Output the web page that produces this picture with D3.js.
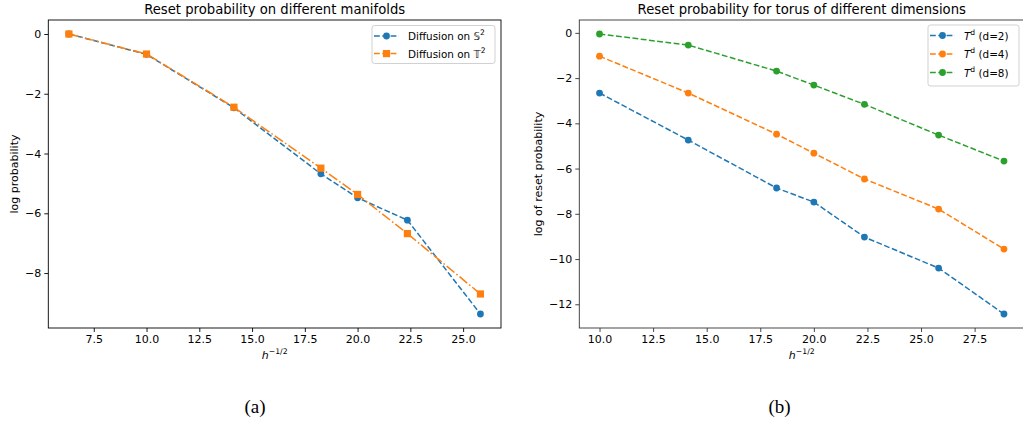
<!DOCTYPE html>
<html>
<head>
<meta charset="utf-8">
<script src="https://cdn.jsdelivr.net/npm/d3@7"></script>
<style>
  body { margin: 0; background: #fff; }
  text { font-family: "DejaVu Sans", sans-serif; fill: #000; }
</style>
</head>
<body>
<svg class="chart" width="1023" height="428"></svg>
<script>
// panel (a): sphere vs torus
var hInvA = [6.32, 10, 14.14, 18.26, 20, 22.36, 25.82];
var sphereLogP = [0, -0.68, -2.47, -4.68, -5.48, -6.23, -9.37];
var torus2LogP = [0, -0.67, -2.45, -4.49, -5.37, -6.68, -8.70];

// panel (b): torus in different dimensions
var hInvB = [10, 14.14, 18.26, 20, 22.36, 25.82, 28.87];
var torusD2 = [-2.66, -4.74, -6.86, -7.48, -9.03, -10.40, -12.43];
var torusD4 = [-1.03, -2.66, -4.48, -5.32, -6.46, -7.79, -9.56];
var torusD8 = [-0.05, -0.54, -1.69, -2.31, -3.16, -4.52, -5.67];

var xTicksA = [7.5, 10, 12.5, 15, 17.5, 20, 22.5, 25];
var yTicksA = [0, -2, -4, -6, -8];
var xTicksB = [10, 12.5, 15, 17.5, 20, 22.5, 25, 27.5];
var yTicksB = [0, -2, -4, -6, -8, -10, -12];

var blue = "#1f77b4", orange = "#ff7f0e", green = "#2ca02c";
var dashed = "5.8,2.5", dashdot = "10,2.5,1.6,2.5";

var svg = d3.select(".chart");
svg.append("rect").attr("width", 1023).attr("height", 428).attr("fill", "#fff");

// matplotlib-like 5% margins
function padded(values) {
    var ext = d3.extent(values), d = (ext[1] - ext[0]) * 0.05;
    return [ext[0] - d, ext[1] + d];
}

function drawPanel(o) {
    var x = d3.scaleLinear().domain(padded(o.xs)).range([o.left, o.right]);
    var allY = [].concat.apply([], o.series.map(function(s) { return s.values; }));
    var y = d3.scaleLinear().domain(padded(allY)).range([o.bottom, o.top]);
    var midX = (o.left + o.right) / 2;

    var g = svg.append("g");

    // x axis
    var xa = g.append("g")
        .attr("transform", "translate(0," + o.bottom + ")")
        .call(d3.axisBottom(x).tickValues(o.xTicks).tickFormat(d3.format(".1f"))
            .tickSize(4).tickSizeOuter(0).tickPadding(3));
    // y axis
    var ya = g.append("g")
        .attr("transform", "translate(" + o.left + ",0)")
        .call(d3.axisLeft(y).tickValues(o.yTicks).tickFormat(d3.format("d"))
            .tickSize(4).tickSizeOuter(0).tickPadding(3));
    [xa, ya].forEach(function(a) {
        a.select(".domain").remove();
        a.selectAll("line").attr("stroke", o.spine).attr("stroke-width", 0.9);
        a.selectAll("text").attr("font-size", "11px").attr("fill", "#000")
            .style("font-family", "'DejaVu Sans', sans-serif");
    });

    // series
    o.series.forEach(function(s) {
        var pts = o.xs.map(function(v, i) { return [x(v), y(s.values[i])]; });
        g.append("path")
            .attr("d", d3.line()(pts))
            .attr("fill", "none")
            .attr("stroke", s.color)
            .attr("stroke-width", 1.5)
            .attr("stroke-dasharray", s.dash);
        drawMarkers(g, pts, s);
    });

    // spines
    g.append("rect")
        .attr("x", o.left).attr("y", o.top)
        .attr("width", o.right - o.left).attr("height", o.bottom - o.top)
        .attr("fill", "none").attr("stroke", o.spine).attr("stroke-width", 0.9);

    // title
    g.append("text")
        .attr("x", midX).attr("y", 14)
        .attr("text-anchor", "middle").attr("font-size", "13.2px")
        .text(o.title);

    // x label  h^{-1/2}
    var xl = g.append("text")
        .attr("x", midX).attr("y", 359)
        .attr("text-anchor", "middle").attr("font-size", "11px");
    xl.append("tspan").attr("font-style", "italic").text("h");
    xl.append("tspan").attr("font-size", "7.7px").attr("dy", -5).text("\u22121/2");

    // y label
    g.append("text")
        .attr("transform", "translate(" + o.yLabelX + "," + ((o.top + o.bottom) / 2) + ") rotate(-90)")
        .attr("text-anchor", "middle").attr("font-size", "11px")
        .text(o.yLabel);

    // legend
    var lg = g.append("g");
    lg.append("rect")
        .attr("x", o.legend.x).attr("y", o.legend.y)
        .attr("width", o.legend.w).attr("height", o.legend.h)
        .attr("rx", 2.5)
        .attr("fill", "#fff").attr("fill-opacity", 0.8)
        .attr("stroke", "#cccccc").attr("stroke-width", 0.9);
    o.series.forEach(function(s, i) {
        var ly = o.legend.y + 10.5 + i * o.legend.step;
        var lx0 = o.legend.x + 2, lx1 = lx0 + 25;
        lg.append("line")
            .attr("x1", lx0).attr("x2", lx1).attr("y1", ly).attr("y2", ly)
            .attr("stroke", s.color).attr("stroke-width", 1.5)
            .attr("stroke-dasharray", dashed);
        drawMarkers(lg, [[(lx0 + lx1) / 2, ly]], s);
        var t = lg.append("text")
            .attr("x", lx1 + 9).attr("y", ly + 4)
            .attr("font-size", "10.4px");
        s.label(t);
    });
}

function drawMarkers(parent, pts, s) {
    if (s.marker === "square") {
        parent.selectAll(null).data(pts).enter().append("rect")
            .attr("x", function(d) { return d[0] - 3.6; })
            .attr("y", function(d) { return d[1] - 3.6; })
            .attr("width", 7.2).attr("height", 7.2)
            .attr("fill", s.color);
    } else {
        parent.selectAll(null).data(pts).enter().append("circle")
            .attr("cx", function(d) { return d[0]; })
            .attr("cy", function(d) { return d[1]; })
            .attr("r", 3.4)
            .attr("fill", s.color);
    }
}

function mathLabel(sym, italic, sup, rest) {
    return function(t) {
        if (rest === undefined) t.append("tspan").text("Diffusion on ");
        t.append("tspan").attr("font-style", italic ? "italic" : null).text(sym);
        t.append("tspan").attr("font-size", "7.6px").attr("dy", -4.7).text(sup);
        if (rest !== undefined) t.append("tspan").attr("dy", 4.7).text(rest);
    };
}

drawPanel({
    left: 48.3, right: 501, top: 20, bottom: 328,
    xs: hInvA, xTicks: xTicksA, yTicks: yTicksA,
    spine: "#000",
    title: "Reset probability on different manifolds",
    yLabelX: 18, yLabel: "log probability",
    legend: { x: 372, y: 25.5, w: 123, h: 38, step: 17.6 },
    series: [
        { values: sphereLogP, color: blue, dash: dashed, marker: "circle",
          label: mathLabel("\uD835\uDD4A", false, "2") },
        { values: torus2LogP, color: orange, dash: dashdot, marker: "square",
          label: mathLabel("\uD835\uDD4B", false, "2") }
    ]
});

drawPanel({
    left: 579.3, right: 1024.2, top: 20, bottom: 328,
    xs: hInvB, xTicks: xTicksB, yTicks: yTicksB,
    spine: "#333",
    title: "Reset probability for torus of different dimensions",
    yLabelX: 542, yLabel: "log of reset probability",
    legend: { x: 928, y: 25, w: 91, h: 61, step: 18.5 },
    series: [
        { values: torusD2, color: blue, dash: dashed, marker: "circle",
          label: mathLabel("T", true, "d", " (d=2)") },
        { values: torusD4, color: orange, dash: dashed, marker: "circle",
          label: mathLabel("T", true, "d", " (d=4)") },
        { values: torusD8, color: green, dash: dashed, marker: "circle",
          label: mathLabel("T", true, "d", " (d=8)") }
    ]
});

// sub-figure captions
svg.append("text").attr("x", 255).attr("y", 413).attr("text-anchor", "middle")
    .style("font-family", "'Liberation Serif', serif").attr("font-size", "19px").text("(a)");
svg.append("text").attr("x", 779.5).attr("y", 413).attr("text-anchor", "middle")
    .style("font-family", "'Liberation Serif', serif").attr("font-size", "19px").text("(b)");
</script>
</body>
</html>
